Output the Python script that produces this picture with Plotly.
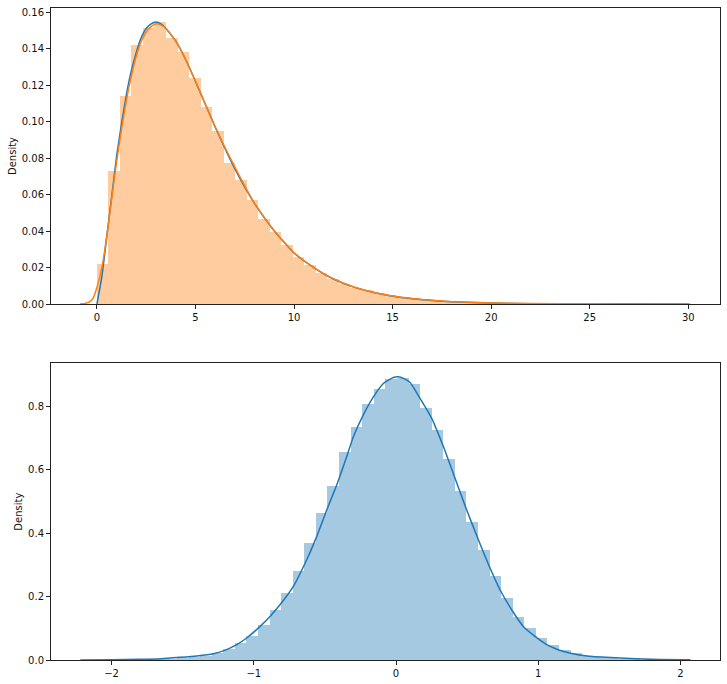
import plotly.graph_objects as go
from plotly.subplots import make_subplots

# ---------------- Top panel data ----------------
top_bin_start = 0.0
top_bin_width = 0.584
top_hist = [0.022, 0.073, 0.114, 0.142, 0.151, 0.1545, 0.146, 0.138, 0.124, 0.108,
            0.095, 0.0774, 0.0679, 0.0569, 0.0465, 0.0394, 0.0323, 0.0255, 0.0213, 0.0171,
            0.0135, 0.0109, 0.0089, 0.0077, 0.0058, 0.0047, 0.0040, 0.0034, 0.0028, 0.0023,
            0.0019, 0.0015, 0.0012, 0.0010, 0.0008, 0.0006, 0.0005, 0.0004, 0.0003, 0.00025,
            0.0002, 0.00015, 0.0001, 0.00008, 0.00006, 0.00004, 0.00003, 0.00002, 0.00001, 0.00001]

pdf_x = [0, 0.25, 0.5, 0.75, 1, 1.25, 1.5, 1.75, 2, 2.25, 2.5, 2.75, 3, 3.25, 3.5, 4, 4.5, 5, 6, 7, 8, 9, 10, 11, 12,
         13, 14, 15, 16, 17, 18, 20, 22, 25, 30]
pdf_y = [0, 0.015, 0.037, 0.059, 0.081, 0.099, 0.115, 0.128, 0.138, 0.146, 0.151, 0.1535, 0.1545, 0.1535,
         0.151, 0.144, 0.134,
         0.122, 0.097, 0.074, 0.055, 0.040, 0.028, 0.020, 0.0137, 0.0094, 0.0064, 0.0043,
         0.0029, 0.0019, 0.0013, 0.0005, 0.0002, 0.0001, 0.0]

kde1_x = [-0.86, -0.6, -0.4, -0.2, 0, 0.25, 0.5, 0.75, 1, 1.25, 1.5, 1.75, 2, 2.25, 2.5, 2.75, 3, 3.25, 3.5, 4, 4.5, 5,
          6, 7, 8, 9, 10, 11, 12, 13, 14, 15, 16, 17, 18, 20, 22, 25, 28, 30.1]
kde1_y = [0, 0.0003, 0.001, 0.003, 0.009, 0.020, 0.037, 0.058, 0.078, 0.096, 0.112, 0.125, 0.136, 0.144,
          0.149, 0.152, 0.1535, 0.1528, 0.151, 0.144, 0.134, 0.122, 0.097, 0.075, 0.055, 0.040, 0.028, 0.020,
          0.0138, 0.0095, 0.0065, 0.0044, 0.003, 0.002, 0.0013, 0.0006, 0.0003, 0.0001,
          0.00003, 0]

top_yticks = [0.00, 0.02, 0.04, 0.06, 0.08, 0.10, 0.12, 0.14, 0.16]
top_xticks = [0, 5, 10, 15, 20, 25, 30]

# ---------------- Bottom panel data ----------------
bot_bin_start = -2.11
bot_bin_width = 0.0814
bot_hist = [0.0001, 0.0003, 0.0005, 0.001, 0.0015, 0.0025, 0.004, 0.006, 0.009, 0.014,
            0.022, 0.035, 0.054, 0.077, 0.111, 0.159, 0.212, 0.282, 0.370, 0.465,
            0.549, 0.657, 0.736, 0.807, 0.855, 0.887, 0.889, 0.870, 0.795, 0.725,
            0.634, 0.533, 0.436, 0.347, 0.266, 0.196, 0.137, 0.0997, 0.070, 0.046,
            0.0325, 0.022, 0.013, 0.008, 0.005, 0.003, 0.002, 0.001, 0.0005, 0.0002]

kde2_x = [-2.22, -2.0, -1.8, -1.65, -1.519, -1.4, -1.284, -1.2, -1.12, -1.05, -0.956, -0.886, -0.816,
          -0.722, -0.628, -0.558, -0.487, -0.417, -0.347, -0.30, -0.23, -0.159, -0.089,
          -0.019, 0.015, 0.052, 0.099, 0.169, 0.251, 0.333, 0.415, 0.497, 0.579, 0.661,
          0.731, 0.813, 0.895, 0.978, 1.06, 1.14, 1.22, 1.36, 1.575, 1.8, 2.07]
kde2_y = [0.0003, 0.0008, 0.002, 0.004, 0.0084, 0.013, 0.0199, 0.031, 0.0483, 0.0693, 0.106, 0.1375,
          0.174, 0.232, 0.316, 0.389, 0.473, 0.552, 0.641, 0.704, 0.773, 0.830, 0.872,
          0.891, 0.893, 0.888, 0.875, 0.825, 0.762, 0.673, 0.573, 0.473, 0.379, 0.290,
          0.2215, 0.1585, 0.106, 0.0745, 0.0483, 0.0325, 0.022, 0.0115, 0.0063, 0.002, 0.0005]

bot_yticks = [0.0, 0.2, 0.4, 0.6, 0.8]
bot_xticks = [-2, -1, 0, 1, 2]

BLUE = "#1f77b4"
ORANGE = "#ff7f0e"

fig = make_subplots(rows=2, cols=1, vertical_spacing=0.09)

top_centers = [top_bin_start + (i + 0.5) * top_bin_width for i in range(len(top_hist))]
bot_centers = [bot_bin_start + (i + 0.5) * bot_bin_width for i in range(len(bot_hist))]

fig.add_trace(go.Bar(x=top_centers, y=top_hist, width=top_bin_width,
                     marker=dict(color=ORANGE, opacity=0.4, line=dict(width=0)),
                     showlegend=False), row=1, col=1)
fig.add_trace(go.Scatter(x=pdf_x, y=pdf_y, mode="lines",
                         line=dict(color=BLUE, width=1.5, shape="spline", smoothing=0.5),
                         showlegend=False), row=1, col=1)
fig.add_trace(go.Scatter(x=kde1_x, y=kde1_y, mode="lines",
                         line=dict(color=ORANGE, width=1.5, shape="spline", smoothing=0.5),
                         showlegend=False), row=1, col=1)

fig.add_trace(go.Bar(x=bot_centers, y=bot_hist, width=bot_bin_width,
                     marker=dict(color=BLUE, opacity=0.4, line=dict(width=0)),
                     showlegend=False), row=2, col=1)
fig.add_trace(go.Scatter(x=kde2_x, y=kde2_y, mode="lines",
                         line=dict(color=BLUE, width=1.5, shape="spline", smoothing=0.5),
                         showlegend=False), row=2, col=1)

axis_common = dict(showline=True, linecolor="#222222", linewidth=1, mirror=True,
                   ticks="outside", ticklen=4, tickwidth=1, tickcolor="#222222",
                   showgrid=False, zeroline=False, automargin=False,
                   tickfont=dict(family="DejaVu Sans", size=10, color="#111111"))

fig.update_xaxes(**axis_common)
fig.update_yaxes(**axis_common)

title_font = dict(family="DejaVu Sans", size=10, color="#111111")
fig.update_xaxes(range=[-2.33, 31.61], tickvals=top_xticks, row=1, col=1)
fig.update_yaxes(range=[0, 0.1622], tickvals=top_yticks, tickformat=".2f",
                 title=dict(text="Density", font=title_font, standoff=3), row=1, col=1)
fig.update_xaxes(range=[-2.426, 2.278], tickvals=bot_xticks, row=2, col=1)
fig.update_yaxes(range=[0, 0.9355], tickvals=bot_yticks, tickformat=".1f",
                 title=dict(text="Density", font=title_font, standoff=3), row=2, col=1)

fig.update_layout(
    width=727, height=684,
    margin=dict(l=51, r=7, t=8, b=24, autoexpand=False),
    plot_bgcolor="white", paper_bgcolor="white",
    bargap=0, barmode="overlay",
    xaxis=dict(domain=[0, 1]), xaxis2=dict(domain=[0, 1]),
    yaxis=dict(domain=[0.546, 1.0]), yaxis2=dict(domain=[0.0, 0.455]),
    font=dict(family="DejaVu Sans", size=10),
    hovermode=False,
)

fig.write_html("out.html", config={"displayModeBar": False, "staticPlot": True},
               post_script="document.body.style.margin='0';document.body.style.overflow='hidden';")
